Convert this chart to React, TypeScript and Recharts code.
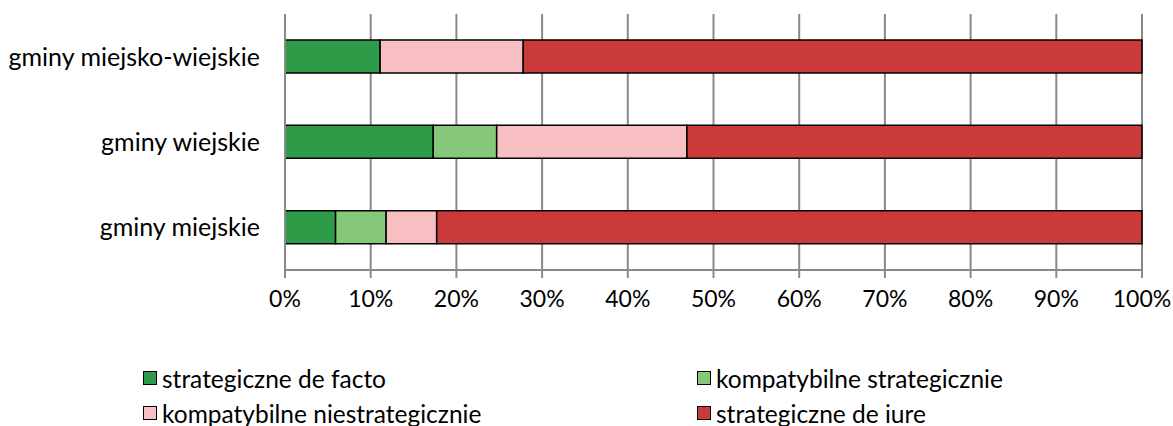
import React from 'react';
import { BarChart, Bar, XAxis, YAxis, CartesianGrid } from 'recharts';

// share of municipalities (%) in each strategy group
const categories = ['gminy miejsko-wiejskie', 'gminy wiejskie', 'gminy miejskie'];
const deFacto = [11.1, 17.3, 5.9];
const kompatybilneStrat = [0, 7.4, 5.9];
const kompatybilneNiestrat = [16.7, 22.2, 5.9];
const deIure = [72.2, 53.1, 82.3];

const xTicks = [0, 10, 20, 30, 40, 50, 60, 70, 80, 90, 100];
const frameTicks = [0, 1, 2, 3];

const series = [
  { key: 'deFacto', name: 'strategiczne de facto', color: '#2e9b48' },
  { key: 'kompStrat', name: 'kompatybilne strategicznie', color: '#86c879' },
  { key: 'kompNiestrat', name: 'kompatybilne niestrategicznie', color: '#f8bfc2' },
  { key: 'deIure', name: 'strategiczne de iure', color: '#cb3a3b' },
];

const data = categories.map((name, i) => ({
  name,
  deFacto: deFacto[i],
  kompStrat: kompatybilneStrat[i],
  kompNiestrat: kompatybilneNiestrat[i],
  deIure: deIure[i],
}));

const FONT = 'Lato, "Open Sans", sans-serif';
const AXIS = '#898989';

function LegendBox() {
  // two columns, filled row by row
  const cols = [143, 697];
  const rows = [378, 413];
  return (
    <>
      {series.map((s, i) => (
        <div
          key={s.key}
          style={{
            position: 'absolute',
            left: cols[i % 2],
            top: rows[Math.floor(i / 2)] - 15,
            height: 30,
            display: 'flex',
            alignItems: 'center',
            fontFamily: FONT,
            fontSize: 24.5,
            color: '#000',
            whiteSpace: 'nowrap',
          }}
        >
          <span
            style={{
              display: 'inline-block',
              width: 12,
              height: 12,
              background: s.color,
              border: '1.5px solid #000',
              marginRight: 5,
            }}
          />
          {s.name}
        </div>
      ))}
    </>
  );
}

export default function App() {
  return (
    <div style={{ position: 'absolute', left: 0, top: 0, width: 1173, height: 426, background: '#fff' }}>
      <BarChart
        width={1173}
        height={426}
        data={data}
        layout="vertical"
        margin={{ top: 14, right: 31, bottom: 126, left: 0 }}
        barSize={33}
      >
        <CartesianGrid horizontal={false} stroke={AXIS} strokeWidth={2} />
        <XAxis
          type="number"
          domain={[0, 100]}
          ticks={xTicks}
          tickFormatter={(v) => `${v}%`}
          stroke={AXIS}
          strokeWidth={2}
          tickSize={8}
          tickMargin={13}
          tick={{ fill: '#000', fontSize: 23, fontFamily: FONT }}
        />
        {/* frame axis: line plus tick marks on category boundaries */}
        <YAxis
          yAxisId="a-frame"
          type="number"
          domain={[0, 3]}
          ticks={frameTicks}
          tick={false}
          tickSize={8}
          width={10}
          stroke={AXIS}
          strokeWidth={2}
        />
        <YAxis
          yAxisId="b-cat"
          type="category"
          dataKey="name"
          width={275}
          axisLine={false}
          tickLine={false}
          tickSize={0}
          tickMargin={15}
          tick={{ fill: '#000', fontSize: 25, fontFamily: FONT }}
        />
        {series.map((s) => (
          <Bar
            key={s.key}
            yAxisId="b-cat"
            dataKey={s.key}
            name={s.name}
            stackId="a"
            fill={s.color}
            stroke="#000"
            strokeWidth={1.5}
            isAnimationActive={false}
          />
        ))}
      </BarChart>
      <LegendBox />
    </div>
  );
}
